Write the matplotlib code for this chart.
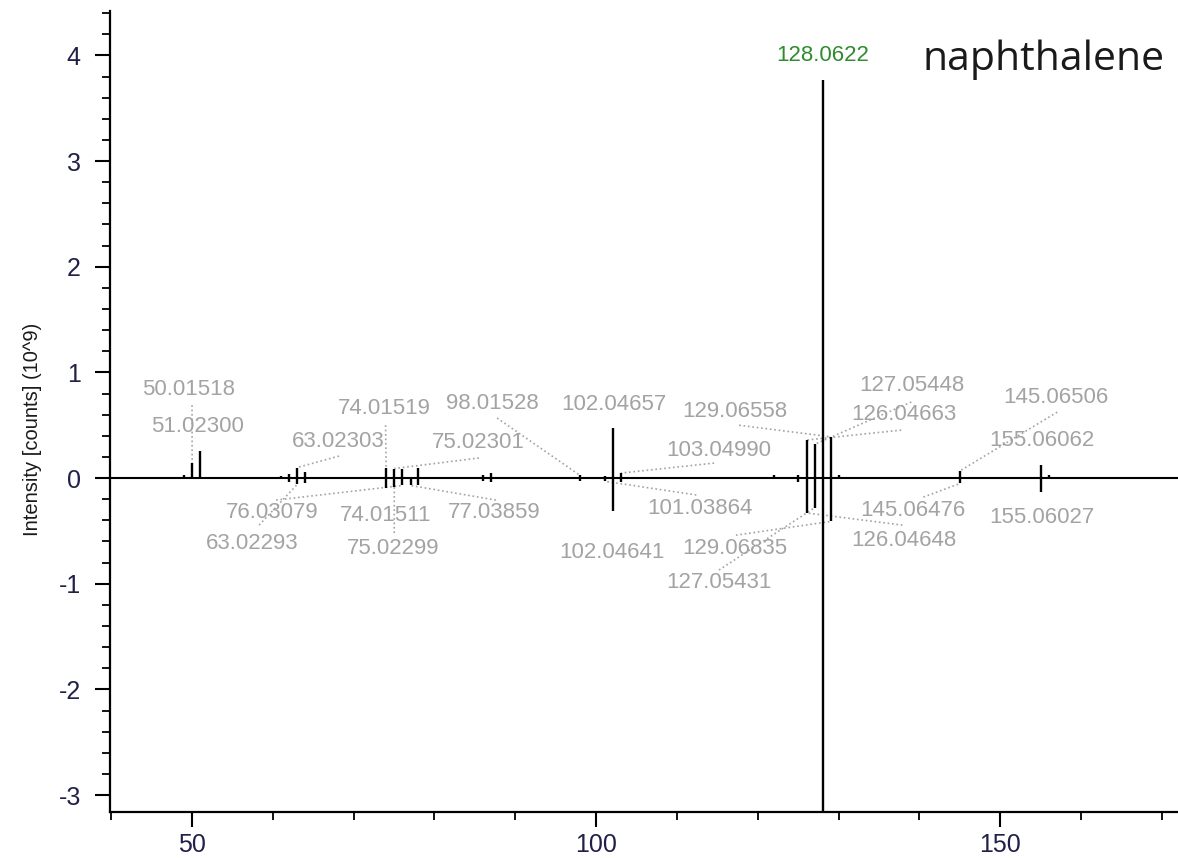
import matplotlib
matplotlib.use("Agg")
import matplotlib.pyplot as plt
from matplotlib.ticker import MultipleLocator

plt.rcParams['font.family'] = ['Liberation Sans', 'DejaVu Sans']
plt.rcParams['axes.unicode_minus'] = False

# ---- data: measured spectrum (positive) and library spectrum (negative) ----
pos_mz = [49.0, 50.01518, 51.02300, 61.0, 62.0, 63.02303, 64.0, 74.01519, 75.02301,
          76.03079, 77.03859, 78.0, 86.0, 87.0, 98.01528, 101.03864, 102.04657,
          103.04990, 122.0, 125.0, 126.04663, 127.05448, 128.0622, 129.06558, 130.0,
          145.06506, 155.06062, 156.0]
pos_int = [0.025, 0.14, 0.26, 0.02, 0.04, 0.10, 0.06, 0.098, 0.09,
           0.09, 0.01, 0.10, 0.03, 0.05, 0.025, 0.02, 0.47,
           0.047, 0.025, 0.03, 0.36, 0.32, 3.77, 0.39, 0.025,
           0.07, 0.12, 0.025]

neg_mz = [62.0, 63.02293, 64.0, 74.01511, 75.02299, 76.03079, 77.03859, 78.0, 86.0,
          87.0, 98.01528, 101.03864, 102.04641, 103.0499, 125.0, 126.04648, 127.05431,
          128.0622, 129.06835, 145.06476, 155.06027]
neg_int = [-0.04, -0.06, -0.05, -0.09, -0.085, -0.07, -0.07, -0.07, -0.03,
           -0.04, -0.03, -0.03, -0.31, -0.04, -0.04, -0.33, -0.28,
           -3.80, -0.41, -0.05, -0.13]

pos_labels = ["50.01518", "51.02300", "63.02303", "74.01519", "75.02301", "98.01528",
              "102.04657", "103.04990", "129.06558", "127.05448", "126.04663",
              "145.06506", "155.06062"]
neg_labels = ["76.03079", "63.02293", "74.01511", "75.02299", "77.03859", "101.03864",
              "102.04641", "129.06835", "127.05431", "126.04648", "145.06476",
              "155.06027"]
base_peak_label = "128.0622"
compound = "naphthalene"

x_ticks = [50, 100, 150]
y_ticks = [-3, -2, -1, 0, 1, 2, 3, 4]

# ---- layout: label text position and leader start (data coords) ----
label_layout = {
    "50.01518": (49.63, 0.842, (50.0, 0.69)),
    "51.02300": (50.62, 0.492, None),
    "63.02303": (68.10, 0.345, (68.19, 0.208)),
    "74.01519": (73.83, 0.655, (73.95, 0.50)),
    "75.02301": (85.40, 0.340, (85.5, 0.19)),
    "98.01528": (87.13, 0.710, (87.75, 0.568)),
    "102.04657": (102.23, 0.700, None),
    "103.04990": (115.22, 0.265, (114.6, 0.142)),
    "129.06558": (117.20, 0.634, (117.7, 0.50)),
    "127.05448": (139.11, 0.880, (139.0, 0.72)),
    "126.04663": (138.12, 0.605, (137.75, 0.454)),
    "145.06506": (156.93, 0.766, (157.05, 0.624)),
    "155.06062": (155.20, 0.359, None),
    "76.03079": (59.90, -0.330, (60.4, -0.208)),
    "63.02293": (57.43, -0.615, (58.3, -0.445)),
    "74.01511": (74.00, -0.350, None),
    "75.02299": (74.94, -0.662, (75.02, -0.52)),
    "77.03859": (87.38, -0.330, (87.6, -0.208)),
    "101.03864": (112.87, -0.284, (112.4, -0.16)),
    "102.04641": (101.98, -0.700, None),
    "129.06835": (117.20, -0.662, (117.3, -0.54)),
    "127.05431": (115.22, -0.984, (115.2, -0.87)),
    "126.04648": (138.12, -0.587, (137.9, -0.445)),
    "145.06476": (139.23, -0.303, (140.5, -0.18)),
    "155.06027": (155.20, -0.370, None),
}

W, H = 1178, 858
fig = plt.figure(figsize=(W / 100, H / 100), dpi=100)
ax = fig.add_axes([110 / W, 46 / H, 1068 / W, 801 / H])

ax.set_xlim(39.85, 172.0)
ax.set_ylim(-3.16, 4.42)

ax.axhline(0, color='black', lw=1.5, zorder=2)
ax.vlines(pos_mz, 0, pos_int, color='black', lw=1.7, zorder=3)
ax.vlines(neg_mz, 0, neg_int, color='black', lw=1.7, zorder=3)

gray = '#a3a3a3'
pos_lookup = dict(zip(["%.5f" % m for m in pos_mz], zip(pos_mz, pos_int)))
neg_lookup = dict(zip(["%.5f" % m for m in neg_mz], zip(neg_mz, neg_int)))
label_size = 16


def draw_labels(labels, lookup):
    for lab in labels:
        tx, ty, lead = label_layout[lab]
        ax.text(tx, ty, lab, ha='center', va='center', color=gray,
                fontsize=label_size, zorder=4)
        if lead is not None:
            key = "%.5f" % float(lab)
            px, py = lookup[key]
            ax.plot([lead[0], px], [lead[1], py], ls=':', color=gray, lw=1.2, zorder=1)


draw_labels(pos_labels, pos_lookup)
draw_labels(neg_labels, neg_lookup)

bp_i = pos_mz.index(float(base_peak_label))
ax.text(pos_mz[bp_i], 4.0, base_peak_label, ha='center', va='center',
        color='#2e8b2e', fontsize=label_size, zorder=4)

fig.text(1044 / W, 1 - 60 / H, compound, ha='center', va='center',
         fontsize=29.5, color='#1a1a1a', family=['Open Sans', 'DejaVu Sans'])

for s in ['top', 'right']:
    ax.spines[s].set_visible(False)
for s in ['left', 'bottom']:
    ax.spines[s].set_linewidth(1.6)

ax.set_xticks(x_ticks)
ax.set_yticks(y_ticks)
ax.xaxis.set_minor_locator(MultipleLocator(10))
ax.yaxis.set_minor_locator(MultipleLocator(0.2))
tick_color = '#202048'
ax.tick_params(which='major', direction='out', length=11, width=1.5,
               labelsize=18, labelcolor=tick_color)
ax.tick_params(axis='y', which='major', pad=10)
ax.tick_params(axis='x', which='major', pad=4)
ax.tick_params(which='minor', direction='out', length=6, width=1.3)

ax.set_ylabel("Intensity [counts] (10^9)", fontsize=14.5, color='#1a1a1a')
ax.yaxis.set_label_coords((42 - 110) / 1068, (812 - 429) / 801)

fig.savefig("out.png", dpi=100)
